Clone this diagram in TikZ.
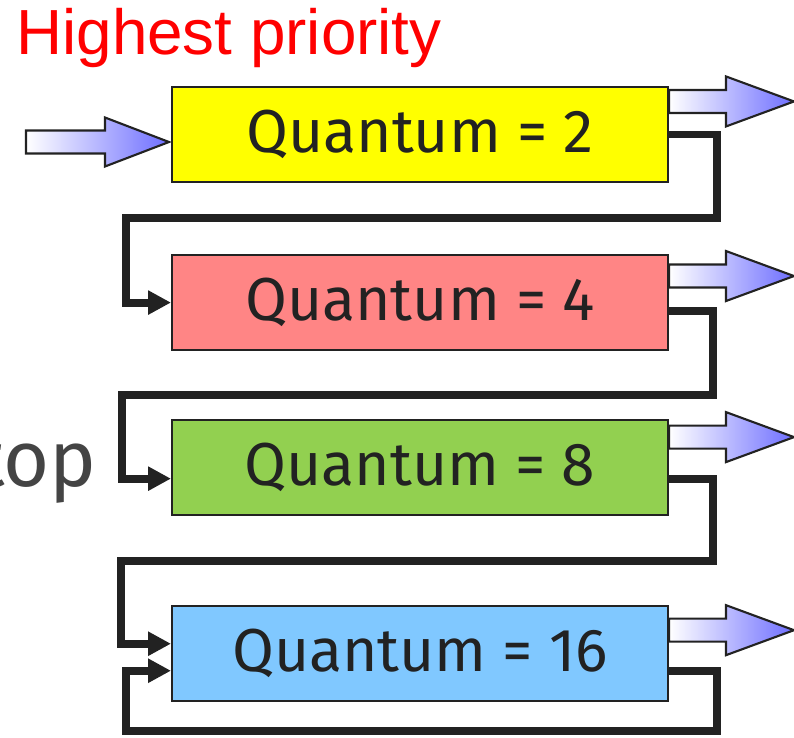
\documentclass[tikz,border=0pt]{standalone}
\usepackage{fontspec}
\setmainfont{Fira Sans}
\newfontfamily\arialfont{Liberation Sans}
\usetikzlibrary{arrows.meta, calc, positioning}
\definecolor{qYellow}{HTML}{FFFF00}
\definecolor{qRed}{HTML}{FF8585}
\definecolor{qGreen}{HTML}{92D050}
\definecolor{qBlue}{HTML}{80C8FF}
\definecolor{qLine}{HTML}{222222}
\definecolor{qShade}{HTML}{6E6EFF}
\definecolor{qGrey}{HTML}{444444}
\tikzset{
  qbox/.style      = {draw=qLine, line width=1.2pt, minimum width=9.92cm,
                      minimum height=1.9cm, inner sep=0pt,
                      font=\fontsize{34.5}{40}\selectfont, text=qLine},
  link/.style      = {draw=qLine, line width=4.5pt,
                      -{Triangle[length=13pt, width=13pt]}},
  fatarrow/.style  = {draw=qLine, line width=1.2pt, left color=white,
                      right color=qShade},
  headlbl/.style   = {font=\arialfont\fontsize{36.3}{40}\selectfont, red,
                      inner sep=0pt},
  sidelbl/.style   = {font=\fontsize{45}{50}\selectfont, qGrey, inner sep=0pt},
}
\begin{document}
\begin{tikzpicture}[x=0.02cm, y=0.02cm]
  \useasboundingbox (0,0) rectangle (794,-737);
  % queues
  \node[qbox, fill=qYellow] (q2) at (420,-134.5) {Quantum = 2};
  \node[qbox, fill=qRed, below=1.42cm of q2] (q4) {Quantum = 4};
  \node[qbox, fill=qGreen, below=1.36cm of q4] (q8) {Quantum = 8};
  \node[qbox, fill=qBlue, below=1.78cm of q8] (q16) {Quantum = 16};
  % labels
  \node[headlbl, anchor=base west] (hp) at (16,-54) {Highest priority};
  \node[sidelbl, anchor=base east] (tp) at (97,-486) {top};
  % incoming job
  \draw[fatarrow] ($(q2.west)+(-2,-7.5)$) -- ++(-64,24.5) -- ++(0,-13)
    -- ++(-79,0) -- ++(0,-23) -- ++(79,0) -- ++(0,-13) -- cycle;
  % finished jobs
  \foreach \q/\dy in {q2/15.5, q4/22, q8/18, q16/25}
    \draw[fatarrow] ($(\q.north east)+(0,-\dy)$) ++(0,11.5) -- ++(57,0)
      -- ++(0,13.5) -- ++(68,-25) -- ++(-68,-25) -- ++(0,13.5)
      -- ++(-57,0) -- cycle;
  % demotion
  \draw[link] (q2.east) -- ++(48,0) |- ++(-591,-83.5) |- (q4.west);
  \draw[link] ($(q4.east)+(0,-8)$) -- ++(44,0) |- ++(-591,-84)
    |- ($(q8.west)+(0,-11)$);
  \draw[link] ($(q8.east)+(0,-11.5)$) -- ++(44,0) |- ++(-592,-82)
    |- ($(q16.west)+(0,10)$);
  \draw[link] ($(q16.east)+(0,-17)$) -- ++(48,0) |- ++(-591,-60.5)
    |- ($(q16.west)+(0,-17)$);
\end{tikzpicture}
\end{document}
